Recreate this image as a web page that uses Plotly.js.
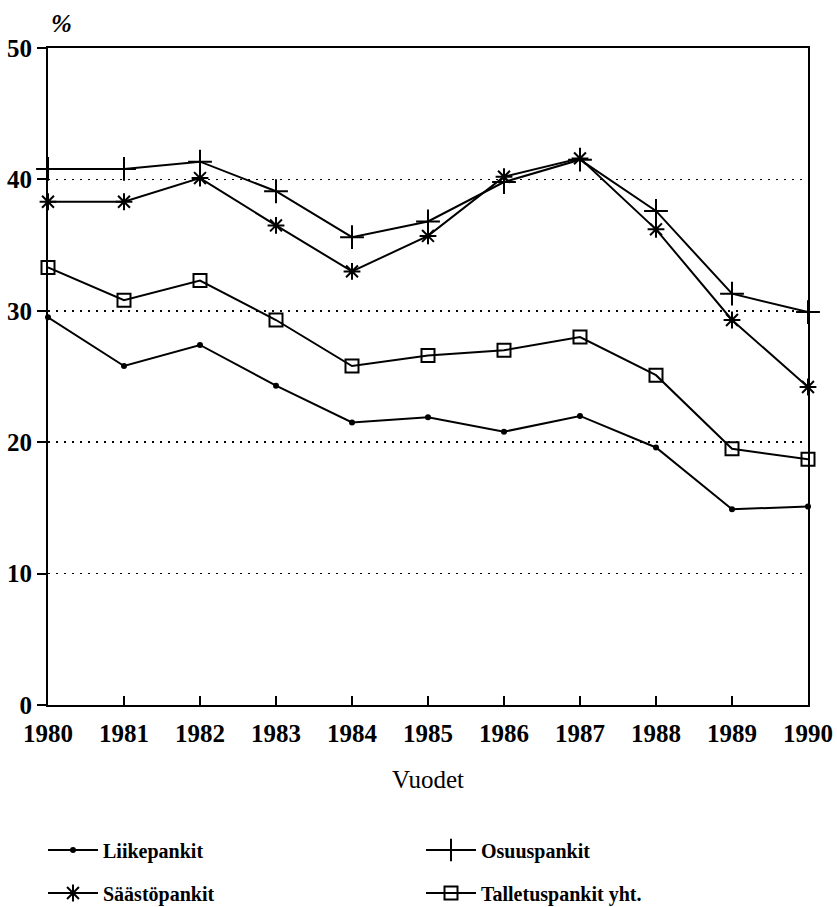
<!DOCTYPE html>
<html>
<head>
<meta charset="utf-8">
<script src="https://cdn.plot.ly/plotly-3.0.1.min.js"></script>
<style>
  html, body { margin: 0; padding: 0; background: #fff; }
  #chart { width: 837px; height: 907px; }
</style>
</head>
<body>
<div id="chart"></div>
<script>
const years = [1980, 1981, 1982, 1983, 1984, 1985, 1986, 1987, 1988, 1989, 1990];
const liikepankit = [29.5, 25.8, 27.4, 24.3, 21.5, 21.9, 20.8, 22.0, 19.6, 14.9, 15.1];
const osuuspankit = [40.8, 40.8, 41.35, 39.1, 35.6, 36.8, 39.8, 41.5, 37.6, 31.3, 29.9];
const saastopankit = [38.3, 38.3, 40.1, 36.5, 33.0, 35.7, 40.2, 41.6, 36.2, 29.3, 24.2];
const talletuspankit = [33.3, 30.8, 32.3, 29.3, 25.8, 26.6, 27.0, 28.0, 25.1, 19.5, 18.7];
const yTicks = [0, 10, 20, 30, 40, 50];

const serif = 'Liberation Serif, Times New Roman, serif';

function tr(name, y, symbol, size, lw, legendId) {
  return {
    type: 'scatter', mode: 'lines+markers', name: name,
    x: years, y: y, cliponaxis: false, legend: legendId,
    line: { color: '#000', width: 2 },
    marker: { symbol: symbol, size: size, color: '#000', line: { color: '#000', width: lw } }
  };
}

const data = [
  tr('Liikepankit', liikepankit, 'circle', 6, 0, 'legend'),
  tr('Osuuspankit', osuuspankit, 'cross-thin-open', 17, 2, 'legend2'),
  tr('Säästöpankit', saastopankit, 'asterisk-open', 14, 2, 'legend3'),
  tr('Talletuspankit yht.', talletuspankit, 'square-open', 13, 2, 'legend4')
];

function leg(xpx, ypx) {
  return {
    orientation: 'v', xref: 'container', yref: 'container',
    xanchor: 'left', yanchor: 'middle', x: xpx / 837, y: 1 - ypx / 907,
    itemwidth: 50,
    font: { family: serif, size: 20, color: '#000', weight: 'bold' },
    bgcolor: 'rgba(0,0,0,0)'
  };
}

const layout = {
  width: 837, height: 907,
  paper_bgcolor: '#fff', plot_bgcolor: '#fff',
  margin: { l: 48, r: 29, t: 48, b: 202, autoexpand: false },
  showlegend: true,
  legend: leg(43, 850),
  legend2: leg(421, 850),
  legend3: leg(43, 893),
  legend4: leg(421, 893),
  xaxis: {
    range: [1980, 1990], tickvals: years, ticktext: years.map(String),
    ticks: 'inside', ticklen: 9, tickwidth: 2, tickcolor: '#000',
    showline: true, linecolor: '#000', linewidth: 2, mirror: true,
    showgrid: false, zeroline: false, tickangle: 0, automargin: false,
    ticklabelstandoff: 5,
    tickfont: { family: serif, size: 25, color: '#000', weight: 'bold' },
    title: { text: 'Vuodet', standoff: 24, font: { family: serif, size: 25, color: '#000' } }
  },
  yaxis: {
    range: [0, 50], tickvals: yTicks, ticktext: yTicks.map(String),
    ticks: 'outside', ticklen: 9, tickwidth: 2, tickcolor: '#000',
    showline: true, linecolor: '#000', linewidth: 2, mirror: true,
    showgrid: true, gridcolor: '#000', gridwidth: 1.5, griddash: '2px,6px',
    zeroline: false, automargin: false,
    tickfont: { family: serif, size: 25, color: '#000', weight: 'bold' }
  },
  annotations: [{
    text: '%', xref: 'paper', yref: 'paper', x: 0.018, y: 1.037,
    xanchor: 'center', yanchor: 'middle', showarrow: false,
    font: { family: serif, size: 25, color: '#000', weight: 'bold', style: 'italic' }
  }]
};

Plotly.newPlot('chart', data, layout, { staticPlot: true, displayModeBar: false });
</script>
</body>
</html>
